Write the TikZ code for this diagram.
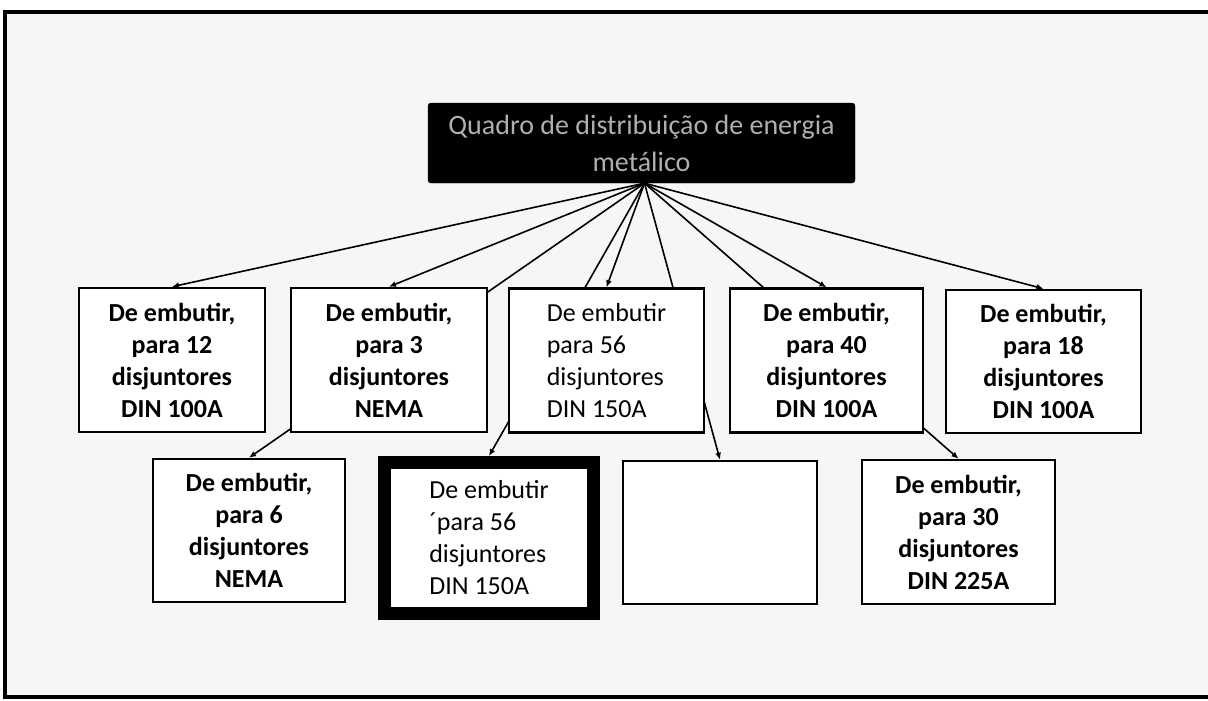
\documentclass[tikz,border=0pt]{standalone}
\usepackage{fontspec}
\setmainfont{Carlito}
\usetikzlibrary{arrows.meta,backgrounds}
\definecolor{bgc}{RGB}{246,246,246}
\definecolor{toptext}{RGB}{175,175,175}
\begin{document}
\begin{tikzpicture}[x=1pt,y=-1pt,
  boxbase/.style={draw=black,line width=2.5pt,fill=white,inner sep=0pt,
    minimum height=144pt},
  boldbox/.style={boxbase,align=center,font=\fontsize{26}{32}\selectfont\bfseries},
  plainbox/.style={boxbase,align=left,font=\fontsize{26}{32}\selectfont},
  thickbox/.style={boxbase,line width=13pt,minimum width=209pt,minimum height=151pt,
    align=left,font=\fontsize{26}{32}\selectfont},
  topbox/.style={fill=black,draw=black,rounded corners=3pt,minimum width=427pt,
    minimum height=80pt,inner sep=0pt,align=center,text=toptext,
    font=\fontsize{28}{37}\selectfont},
  conn/.style={draw=black,line width=1.6pt,-{Latex[length=7pt,width=6pt]}}]
\useasboundingbox (0,0) rectangle (1208,701);
\begin{pgfonlayer}{background}
  \fill[white] (0,0) rectangle (1208,701);
  \fill[bgc] (5,12) rectangle (1208,697);
  \draw[line width=4pt] (1208,12) -- (5,12) -- (5,697) -- (1208,697);
\end{pgfonlayer}

\node[topbox] (top) at (641.5,143) {Quadro de distribuição de energia\\metálico};

\node[boldbox,minimum width=186pt] (b1) at (172,360) {De embutir,\\para 12\\disjuntores\\DIN 100A};
\node[boldbox,minimum width=196pt] (b2) at (389,360) {De embutir,\\para 3\\disjuntores\\NEMA};
\node[plainbox,minimum width=195pt] (b3) at (606.5,360.5) {De embutir\\para 56\\disjuntores\\DIN 150A};
\node[boldbox,minimum width=193pt] (b4) at (826.5,360.5) {De embutir,\\para 40\\disjuntores\\DIN 100A};
\node[boldbox,minimum width=195pt,minimum height=143pt] (b5) at (1043.5,361.5) {De embutir,\\para 18\\disjuntores\\DIN 100A};

\node[boldbox,minimum width=192pt,minimum height=143pt] (b6) at (249,530.5) {De embutir,\\para 6\\disjuntores\\NEMA};
\node[thickbox] (b7) at (489,538) {De embutir\\´para 56\\disjuntores\\DIN 150A};
\node[boxbase,minimum width=194pt,minimum height=143pt] (b8) at (720,532.5) {};
\node[boldbox,minimum width=193pt] (b9) at (958.5,532) {De embutir,\\para 30\\disjuntores\\DIN 225A};

\begin{pgfonlayer}{background}
  \foreach \n in {b1,b2,b3,b4,b5,b6,b7,b8,b9}
    \draw[conn] ([xshift=3pt]top.south) -- (\n.north);
\end{pgfonlayer}
\end{tikzpicture}
\end{document}
